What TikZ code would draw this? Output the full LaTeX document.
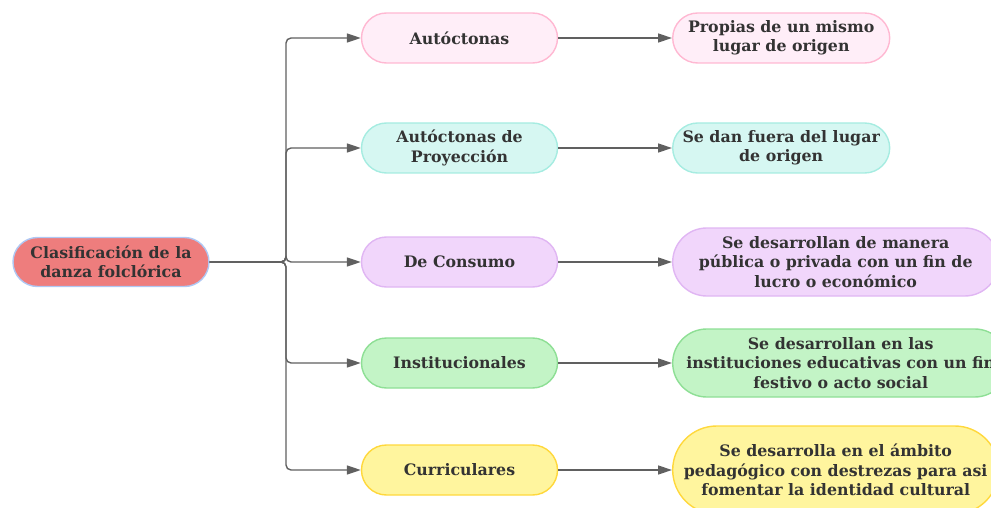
\documentclass[tikz,border=0pt]{standalone}
\usepackage{fontspec}
\setmainfont{DejaVu Serif}
\usetikzlibrary{arrows.meta,shapes.misc,positioning}
\definecolor{txtgray}{HTML}{333333}
\definecolor{linegray}{HTML}{606060}
\definecolor{rootfill}{HTML}{EE7D7D}
\definecolor{rootline}{HTML}{AFC8F4}
\definecolor{pinkfill}{HTML}{FFEEF8}
\definecolor{pinkline}{HTML}{FFB8D2}
\definecolor{tealfill}{HTML}{D6F7F2}
\definecolor{tealline}{HTML}{A6ECE1}
\definecolor{lilacfill}{HTML}{F1D6FB}
\definecolor{lilacline}{HTML}{E0B6F3}
\definecolor{greenfill}{HTML}{C3F4C6}
\definecolor{greenline}{HTML}{8EDF95}
\definecolor{yellowfill}{HTML}{FFF59E}
\definecolor{yellowline}{HTML}{FFD83C}

\begin{document}
\begin{tikzpicture}[x=1pt,y=-1pt,
    pill/.style={rounded rectangle, line width=1.4pt, align=center, text=txtgray,
      font=\fontsize{15.8}{19.5}\selectfont\bfseries, inner sep=2pt},
    catbox/.style={pill, minimum width=200pt, minimum height=50pt},
    descbox/.style={pill, anchor=west, minimum width=221pt, minimum height=50pt},
    bigbox/.style={pill, anchor=west, minimum width=330pt, minimum height=68pt},
    arr/.style={draw=linegray, line width=1.4pt, rounded corners=5pt,
      -{Triangle[length=14pt,width=9pt]}}]
  \useasboundingbox (0,0) rectangle (991,508);
  \clip (0,0) rectangle (991,508);

  % root
  \node[pill, minimum width=200pt, minimum height=49pt, fill=rootfill, draw=rootline]
    (root) at (111,262) {Clasificación de la\\danza folclórica};
  \coordinate (fork) at (286,262);

  % categories
  \node[catbox, fill=pinkfill, draw=pinkline] (auto) at (459.5,38) {Autóctonas};
  \node[catbox, fill=tealfill, draw=tealline] (proy) at (459.5,148) {Autóctonas de\\Proyección};
  \node[catbox, fill=lilacfill, draw=lilacline] (cons) at (459.5,262) {De Consumo};
  \node[catbox, fill=greenfill, draw=greenline] (inst) at (459.5,363) {Institucionales};
  \node[catbox, fill=yellowfill, draw=yellowline] (curr) at (459.5,470) {Curriculares};

  % descriptions
  \node[descbox, fill=pinkfill, draw=pinkline] (dauto) at (672,38)
    {Propias de un mismo\\lugar de origen};
  \node[descbox, fill=tealfill, draw=tealline] (dproy) at (672,148)
    {Se dan fuera del lugar\\de origen};
  \node[bigbox, fill=lilacfill, draw=lilacline] (dcons) at (672,262)
    {Se desarrollan de manera\\pública o privada con un fin de\\lucro o económico};
  \node[bigbox, fill=greenfill, draw=greenline] (dinst) at (672,363)
    {Se desarrollan en las\\instituciones educativas con un fin\\festivo o acto social};
  \node[bigbox, minimum height=88pt, fill=yellowfill, draw=yellowline] (dcurr) at (672,470)
    {Se desarrolla en el ámbito\\pedagógico con destrezas para asi\\fomentar la identidad cultural};

  % connectors
  \foreach \cat in {auto,proy,cons,inst,curr}{
    \draw[arr] (root.east) -- (fork) |- (\cat.west);
    \draw[arr] (\cat.east) -- (d\cat.west);
  }
\end{tikzpicture}
\end{document}
